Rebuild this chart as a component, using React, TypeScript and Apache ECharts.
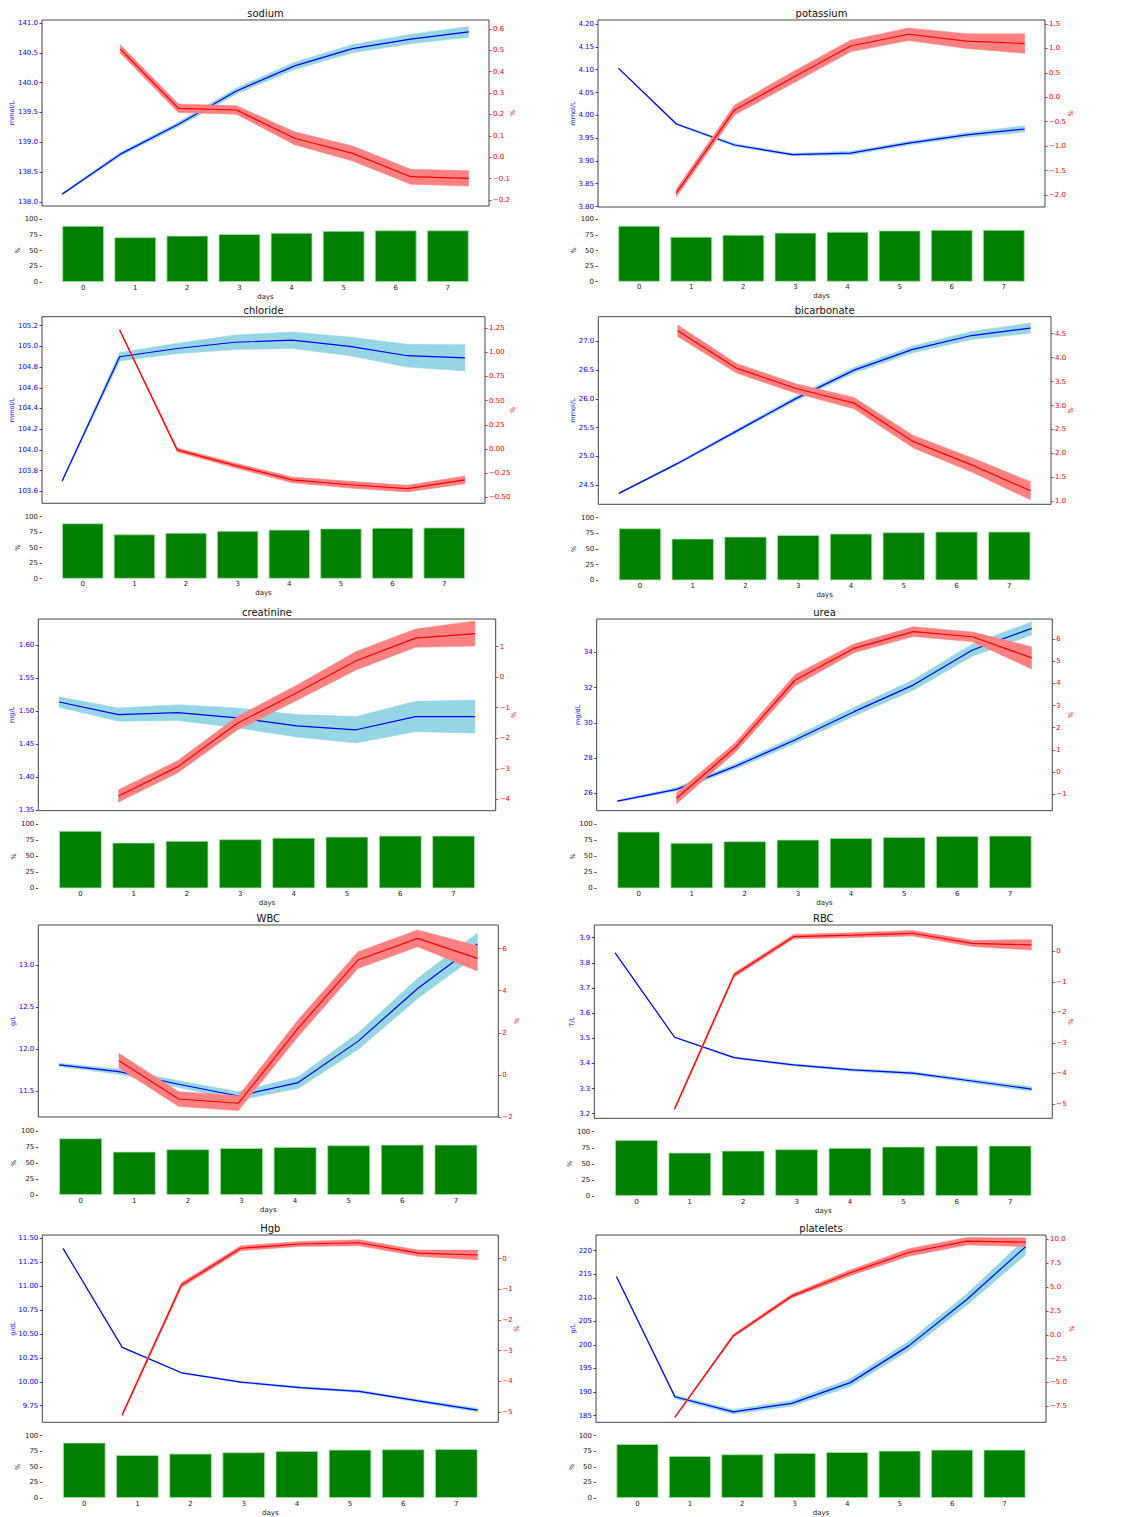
import React, { useEffect, useRef } from "react";
import * as echarts from "echarts";

// ---------------- data ----------------
const days = [0, 1, 2, 3, 4, 5, 6, 7];
const changeDays = [1, 2, 3, 4, 5, 6, 7];
const dayLabels = ["0", "1", "2", "3", "4", "5", "6", "7"];
const coverageTicks = [0, 25, 50, 75, 100];

// sodium
const sodiumMean = [138.13, 138.8, 139.3, 139.86, 140.28, 140.57, 140.73, 140.85];
const sodiumSpread = [0.02, 0.03, 0.04, 0.05, 0.06, 0.07, 0.08, 0.09];
const sodiumChange = [0.506, 0.229, 0.221, 0.089, 0.018, -0.091, -0.099];
const sodiumChangeSpread = [0.02, 0.02, 0.02, 0.03, 0.035, 0.035, 0.036];
const sodiumCoverage = [89, 71, 73.5, 76, 78, 81, 82, 82];
const sodiumLeftTicks = [138.0, 138.5, 139.0, 139.5, 140.0, 140.5, 141.0];
const sodiumRightTicks = [-0.2, -0.1, 0, 0.1, 0.2, 0.3, 0.4, 0.5, 0.6];
const sodiumLeftRange = [137.93, 141.05];
const sodiumRightRange = [-0.228, 0.642];

// potassium
const potassiumMean = [4.1035, 3.981, 3.935, 3.914, 3.917, 3.939, 3.957, 3.97];
const potassiumSpread = [0.001, 0.002, 0.003, 0.003, 0.004, 0.004, 0.005, 0.007];
const potassiumChange = [-1.957, -0.262, 0.4, 1.05, 1.29, 1.15, 1.1];
const potassiumChangeSpread = [0.08, 0.1, 0.12, 0.12, 0.13, 0.15, 0.2];
const potassiumCoverage = [89.7, 72, 75, 78.5, 80, 82, 83, 83];
const potassiumLeftTicks = [3.8, 3.85, 3.9, 3.95, 4.0, 4.05, 4.1, 4.15, 4.2];
const potassiumRightTicks = [-2.0, -1.5, -1.0, -0.5, 0, 0.5, 1.0, 1.5];
const potassiumLeftRange = [3.799, 4.209];
const potassiumRightRange = [-2.246, 1.582];

// chloride
const chlorideMean = [103.7, 104.9, 104.98, 105.04, 105.06, 105.0, 104.91, 104.89];
const chlorideSpread = [0.01, 0.04, 0.05, 0.07, 0.08, 0.09, 0.11, 0.127];
const chlorideChange = [1.23, -0.01, -0.17, -0.32, -0.37, -0.41, -0.32];
const chlorideChangeSpread = [0.01, 0.02, 0.025, 0.03, 0.035, 0.035, 0.04];
const chlorideCoverage = [89.2, 71.5, 74, 77, 79, 81, 82, 82.5];
const chlorideLeftTicks = [103.6, 103.8, 104.0, 104.2, 104.4, 104.6, 104.8, 105.0, 105.2];
const chlorideRightTicks = [-0.5, -0.25, 0, 0.25, 0.5, 0.75, 1.0, 1.25];
const chlorideLeftRange = [103.484, 105.287];
const chlorideRightRange = [-0.562, 1.367];

// bicarbonate
const bicarbonateMean = [24.36, 24.88, 25.44, 26.0, 26.5, 26.86, 27.1, 27.23];
const bicarbonateSpread = [0.01, 0.02, 0.03, 0.04, 0.05, 0.06, 0.07, 0.087];
const bicarbonateChange = [4.56, 3.78, 3.36, 3.05, 2.25, 1.76, 1.22];
const bicarbonateChangeSpread = [0.12, 0.1, 0.1, 0.12, 0.13, 0.15, 0.19];
const bicarbonateCoverage = [83, 66.5, 69.7, 72.4, 74.6, 76.7, 77.7, 77.7];
const bicarbonateLeftTicks = [24.5, 25.0, 25.5, 26.0, 26.5, 27.0];
const bicarbonateRightTicks = [1.0, 1.5, 2.0, 2.5, 3.0, 3.5, 4.0, 4.5];
const bicarbonateLeftRange = [24.17, 27.427];
const bicarbonateRightRange = [0.937, 4.855];

// creatinine
const creatinineMean = [1.514, 1.495, 1.498, 1.49, 1.478, 1.472, 1.492, 1.492];
const creatinineSpread = [0.008, 0.01, 0.012, 0.015, 0.017, 0.02, 0.023, 0.025];
const creatinineChange = [-3.89, -2.93, -1.51, -0.51, 0.54, 1.28, 1.43];
const creatinineChangeSpread = [0.2, 0.2, 0.22, 0.25, 0.3, 0.3, 0.41];
const creatinineCoverage = [89.6, 71.3, 74, 76.6, 79, 80.6, 82.2, 82.2];
const creatinineLeftTicks = [1.35, 1.4, 1.45, 1.5, 1.55, 1.6];
const creatinineRightTicks = [-4, -3, -2, -1, 0, 1];
const creatinineLeftRange = [1.3495, 1.6397];
const creatinineRightRange = [-4.374, 1.908];

// urea
const ureaMean = [25.55, 26.22, 27.54, 29.02, 30.63, 32.14, 34.13, 35.36];
const ureaSpread = [0.05, 0.1, 0.15, 0.2, 0.25, 0.3, 0.35, 0.38];
const ureaChange = [-1.18, 1.13, 4.14, 5.58, 6.33, 6.1, 5.15];
const ureaChangeSpread = [0.25, 0.22, 0.25, 0.2, 0.22, 0.22, 0.5];
const ureaCoverage = [88.5, 71, 73.5, 76, 78.6, 80, 81.7, 82.2];
const ureaLeftTicks = [26, 28, 30, 32, 34];
const ureaRightTicks = [-1, 0, 1, 2, 3, 4, 5, 6];
const ureaLeftRange = [25.006, 35.893];
const ureaRightRange = [-1.739, 6.901];

// WBC
const wbcMean = [11.81, 11.73, 11.58, 11.44, 11.6, 12.09, 12.72, 13.25];
const wbcSpread = [0.02, 0.03, 0.04, 0.05, 0.07, 0.1, 0.12, 0.13];
const wbcChange = [0.67, -1.15, -1.35, 2.22, 5.46, 6.49, 5.54];
const wbcChangeSpread = [0.35, 0.35, 0.35, 0.4, 0.4, 0.4, 0.6];
const wbcCoverage = [88.6, 67.7, 71.4, 73.4, 75, 77.6, 78.6, 78.6];
const wbcLeftTicks = [11.5, 12.0, 12.5, 13.0];
const wbcRightTicks = [-2, 0, 2, 4, 6];
const wbcLeftRange = [11.19, 13.475];
const wbcRightRange = [-2.005, 7.127];

// RBC
const rbcMean = [3.84, 3.504, 3.423, 3.394, 3.374, 3.361, 3.33, 3.298];
const rbcSpread = [0.001, 0.002, 0.003, 0.004, 0.005, 0.006, 0.007, 0.009];
const rbcChange = [-5.16, -0.78, 0.48, 0.53, 0.59, 0.26, 0.21];
const rbcChangeSpread = [0.05, 0.07, 0.07, 0.08, 0.09, 0.1, 0.17];
const rbcCoverage = [87.1, 67.4, 70.5, 72.6, 74.7, 76.7, 78.3, 78.3];
const rbcLeftTicks = [3.2, 3.3, 3.4, 3.5, 3.6, 3.7, 3.8, 3.9];
const rbcRightTicks = [-5, -4, -3, -2, -1, 0];
const rbcLeftRange = [3.1817, 3.9505];
const rbcRightRange = [-5.468, 0.861];

// Hgb
const hgbMean = [11.395, 10.36, 10.094, 9.997, 9.94, 9.9, 9.8, 9.704];
const hgbSpread = [0.002, 0.004, 0.005, 0.008, 0.01, 0.012, 0.015, 0.02];
const hgbChange = [-5.09, -0.86, 0.34, 0.48, 0.52, 0.18, 0.12];
const hgbChangeSpread = [0.05, 0.08, 0.08, 0.08, 0.1, 0.1, 0.16];
const hgbCoverage = [88.8, 69, 71.2, 73.3, 75.4, 77.5, 78.1, 78.6];
const hgbLeftTicks = [9.75, 10.0, 10.25, 10.5, 10.75, 11.0, 11.25, 11.5];
const hgbRightTicks = [-5, -4, -3, -2, -1, 0];
const hgbLeftRange = [9.5765, 11.5345];
const hgbRightRange = [-5.336, 0.773];

// platelets
const plateletsMean = [214.5, 189.0, 185.8, 187.6, 192.0, 199.8, 209.7, 220.85];
const plateletsSpread = [0.1, 0.4, 0.5, 0.6, 0.8, 1.0, 1.2, 1.75];
const plateletsChange = [-8.64, -0.1, 4.05, 6.49, 8.62, 9.8, 9.7];
const plateletsChangeSpread = [0.1, 0.15, 0.2, 0.3, 0.4, 0.4, 0.45];
const plateletsCoverage = [86.6, 67.4, 70.1, 72.2, 73.8, 75.9, 77.5, 77.5];
const plateletsLeftTicks = [185, 190, 195, 200, 205, 210, 215, 220];
const plateletsRightTicks = [-7.5, -5.0, -2.5, 0, 2.5, 5.0, 7.5, 10.0];
const plateletsLeftRange = [183.58, 223.33];
const plateletsRightRange = [-9.17, 10.45];

const panels = [
  { title: "sodium", unit: "mmol/L", mean: sodiumMean, spread: sodiumSpread, change: sodiumChange, changeSpread: sodiumChangeSpread, coverage: sodiumCoverage, leftTicks: sodiumLeftTicks, leftDec: 1, rightTicks: sodiumRightTicks, rightDec: 1, leftRange: sodiumLeftRange, rightRange: sodiumRightRange },
  { title: "potassium", unit: "mmol/L", mean: potassiumMean, spread: potassiumSpread, change: potassiumChange, changeSpread: potassiumChangeSpread, coverage: potassiumCoverage, leftTicks: potassiumLeftTicks, leftDec: 2, rightTicks: potassiumRightTicks, rightDec: 1, leftRange: potassiumLeftRange, rightRange: potassiumRightRange },
  { title: "chloride", unit: "mmol/L", mean: chlorideMean, spread: chlorideSpread, change: chlorideChange, changeSpread: chlorideChangeSpread, coverage: chlorideCoverage, leftTicks: chlorideLeftTicks, leftDec: 1, rightTicks: chlorideRightTicks, rightDec: 2, leftRange: chlorideLeftRange, rightRange: chlorideRightRange },
  { title: "bicarbonate", unit: "mmol/L", mean: bicarbonateMean, spread: bicarbonateSpread, change: bicarbonateChange, changeSpread: bicarbonateChangeSpread, coverage: bicarbonateCoverage, leftTicks: bicarbonateLeftTicks, leftDec: 1, rightTicks: bicarbonateRightTicks, rightDec: 1, leftRange: bicarbonateLeftRange, rightRange: bicarbonateRightRange },
  { title: "creatinine", unit: "mg/L", mean: creatinineMean, spread: creatinineSpread, change: creatinineChange, changeSpread: creatinineChangeSpread, coverage: creatinineCoverage, leftTicks: creatinineLeftTicks, leftDec: 2, rightTicks: creatinineRightTicks, rightDec: 0, leftRange: creatinineLeftRange, rightRange: creatinineRightRange },
  { title: "urea", unit: "mg/dL", mean: ureaMean, spread: ureaSpread, change: ureaChange, changeSpread: ureaChangeSpread, coverage: ureaCoverage, leftTicks: ureaLeftTicks, leftDec: 0, rightTicks: ureaRightTicks, rightDec: 0, leftRange: ureaLeftRange, rightRange: ureaRightRange },
  { title: "WBC", unit: "g/L", mean: wbcMean, spread: wbcSpread, change: wbcChange, changeSpread: wbcChangeSpread, coverage: wbcCoverage, leftTicks: wbcLeftTicks, leftDec: 1, rightTicks: wbcRightTicks, rightDec: 0, leftRange: wbcLeftRange, rightRange: wbcRightRange },
  { title: "RBC", unit: "T/L", mean: rbcMean, spread: rbcSpread, change: rbcChange, changeSpread: rbcChangeSpread, coverage: rbcCoverage, leftTicks: rbcLeftTicks, leftDec: 1, rightTicks: rbcRightTicks, rightDec: 0, leftRange: rbcLeftRange, rightRange: rbcRightRange },
  { title: "Hgb", unit: "g/dL", mean: hgbMean, spread: hgbSpread, change: hgbChange, changeSpread: hgbChangeSpread, coverage: hgbCoverage, leftTicks: hgbLeftTicks, leftDec: 2, rightTicks: hgbRightTicks, rightDec: 0, leftRange: hgbLeftRange, rightRange: hgbRightRange },
  { title: "platelets", unit: "g/L", mean: plateletsMean, spread: plateletsSpread, change: plateletsChange, changeSpread: plateletsChangeSpread, coverage: plateletsCoverage, leftTicks: plateletsLeftTicks, leftDec: 0, rightTicks: plateletsRightTicks, rightDec: 1, leftRange: plateletsLeftRange, rightRange: plateletsRightRange },
];

// ---------------- layout (pixels) ----------------
const layouts = [
  { L: 42, R: 489, T: 20, B: 206, bT: 219, bB: 282, yl: 12, pr: 513 },
  { L: 598, R: 1045, T: 20, B: 207, bT: 219.3, bB: 281.7, yl: 573, pr: 1071 },
  { L: 42, R: 485, T: 316.7, B: 503.3, bT: 516.7, bB: 578.7, yl: 12, pr: 513 },
  { L: 598.3, R: 1051, T: 316.7, B: 504.3, bT: 517.7, bB: 580.3, yl: 573, pr: 1071 },
  { L: 38.3, R: 495.7, T: 619, B: 810.7, bT: 824.3, bB: 888.3, yl: 12, pr: 514 },
  { L: 596.7, R: 1052.3, T: 619, B: 810.7, bT: 824.3, bB: 888.3, yl: 578, pr: 1070.7 },
  { L: 38.3, R: 498.3, T: 925, B: 1117, bT: 1131, bB: 1195, yl: 13.3, pr: 516.7 },
  { L: 594.3, R: 1052.3, T: 925, B: 1118.3, bT: 1131.7, bB: 1196, yl: 572.3, pr: 1070.7 },
  { L: 42.3, R: 498.3, T: 1235, B: 1422.3, bT: 1435.7, bB: 1498, yl: 12.7, pr: 516.7 },
  { L: 596, R: 1046, T: 1235, B: 1422.3, bT: 1435.7, bB: 1498, yl: 573.3, pr: 1071.7 },
];

const FONT = "DejaVu Sans";
const BLUE = "#0000ff";
const RED = "#ff0000";
const BLUE_BAND = "#96d6e4";
const RED_BAND = "#ff8080";
const BAR_GREEN = "#008000";
const TICK_FS = 7;

const fmt = (dec: number) => (v: number) => Number(v).toFixed(dec).replace("-", "\u2212");

function bandSeries(xs: number[], mean: number[], spread: number[], xi: number, yi: number, color: string, z: number) {
  return {
    type: "custom",
    xAxisIndex: xi,
    yAxisIndex: yi,
    z,
    silent: true,
    data: xs.map((x, i) => [x, mean[i] - spread[i], mean[i] + spread[i]]),
    encode: { x: 0, y: [1, 2] },
    renderItem: (params: any, api: any) => {
      if (params.dataIndex !== 0) return null;
      const pts: number[][] = [];
      for (let i = 0; i < xs.length; i++) pts.push(api.coord([xs[i], mean[i] + spread[i]]));
      for (let i = xs.length - 1; i >= 0; i--) pts.push(api.coord([xs[i], mean[i] - spread[i]]));
      return { type: "polygon", shape: { points: pts }, style: { fill: color, stroke: color, lineWidth: 0.5 } };
    },
  };
}

function buildOption() {
  const grid: any[] = [];
  const xAxis: any[] = [];
  const yAxis: any[] = [];
  const series: any[] = [];
  const graphic: any[] = [];

  panels.forEach((p, k) => {
    const g = layouts[k];
    const W = g.R - g.L;
    // line grid
    grid.push({ left: g.L, top: g.T, width: W, height: g.B - g.T, show: true, borderColor: "#444", borderWidth: 1, backgroundColor: "transparent" });
    // bar grid (category centres aligned with matplotlib bar positions)
    const off = ((0.79 - 0.5) / 8.58) * W;
    const wc = (8 / 8.58) * W;
    grid.push({ left: g.L + off, top: g.bT, width: wc, height: g.bB - g.bT, show: false });

    const lineX = 2 * k;
    const barX = 2 * k + 1;
    xAxis.push({ gridIndex: 2 * k, type: "value", min: -0.35, max: 7.35, show: false, axisLine: { onZero: false } });
    xAxis.push({
      gridIndex: 2 * k + 1,
      type: "category",
      data: dayLabels,
      axisLine: { show: false, onZero: false },
      axisTick: { show: false },
      axisLabel: { color: "#222", fontSize: TICK_FS, fontFamily: FONT, margin: 2 },
      splitLine: { show: false },
    });

    const leftY = 3 * k;
    const rightY = 3 * k + 1;
    const barY = 3 * k + 2;
    yAxis.push({
      gridIndex: 2 * k,
      type: "value",
      position: "left",
      min: p.leftRange[0],
      max: p.leftRange[1],
      axisLine: { show: false, onZero: false },
      splitLine: { show: false },
      axisTick: { show: true, length: 2.5, customValues: p.leftTicks, lineStyle: { color: BLUE, width: 0.8 } },
      axisLabel: { customValues: p.leftTicks, formatter: fmt(p.leftDec), color: BLUE, fontSize: TICK_FS, fontFamily: FONT, margin: 4 },
    });
    yAxis.push({
      gridIndex: 2 * k,
      type: "value",
      position: "right",
      min: p.rightRange[0],
      max: p.rightRange[1],
      axisLine: { show: false, onZero: false },
      splitLine: { show: false },
      axisTick: { show: true, length: 2.5, customValues: p.rightTicks, lineStyle: { color: RED, width: 0.8 } },
      axisLabel: { customValues: p.rightTicks, formatter: fmt(p.rightDec), color: RED, fontSize: TICK_FS, fontFamily: FONT, margin: 4 },
    });
    yAxis.push({
      gridIndex: 2 * k + 1,
      type: "value",
      position: "left",
      offset: off,
      min: 0,
      max: 100,
      axisLine: { show: false, onZero: false },
      splitLine: { show: false },
      axisTick: { show: true, length: 2.5, customValues: coverageTicks, lineStyle: { color: "#333", width: 0.8 } },
      axisLabel: { customValues: coverageTicks, color: "#222", fontSize: TICK_FS, fontFamily: FONT, margin: 4 },
    });

    series.push(bandSeries(days, p.mean, p.spread, lineX, leftY, BLUE_BAND, 1));
    series.push({
      type: "line",
      xAxisIndex: lineX,
      yAxisIndex: leftY,
      z: 2,
      symbol: "none",
      data: days.map((d, i) => [d, p.mean[i]]),
      lineStyle: { color: BLUE, width: 1.2 },
    });
    series.push(bandSeries(changeDays, p.change, p.changeSpread, lineX, rightY, RED_BAND, 3));
    series.push({
      type: "line",
      xAxisIndex: lineX,
      yAxisIndex: rightY,
      z: 4,
      symbol: "none",
      data: changeDays.map((d, i) => [d, p.change[i]]),
      lineStyle: { color: RED, width: 1.2 },
    });
    series.push({
      type: "bar",
      xAxisIndex: barX,
      yAxisIndex: barY,
      barWidth: "80%",
      data: p.coverage,
      itemStyle: { color: BAR_GREEN, borderColor: "#a6e0a6", borderWidth: 0.8 },
    });

    const cx = (g.L + g.R) / 2;
    graphic.push({ type: "text", x: cx, y: g.T - 6.3, style: { text: p.title, fontSize: 10, fontFamily: FONT, fill: "#111", align: "center", verticalAlign: "middle" } });
    graphic.push({ type: "text", x: g.yl, y: (g.T + g.B) / 2, rotation: Math.PI / 2, style: { text: p.unit, fontSize: 6.5, fontFamily: FONT, fill: BLUE, align: "center", verticalAlign: "middle" } });
    graphic.push({ type: "text", x: g.pr, y: (g.T + g.B) / 2, rotation: Math.PI / 2, style: { text: "%", fontSize: 6.5, fontFamily: FONT, fill: RED, align: "center", verticalAlign: "middle" } });
    graphic.push({ type: "text", x: g.L - 24, y: (g.bT + g.bB) / 2, rotation: Math.PI / 2, style: { text: "%", fontSize: 6.5, fontFamily: FONT, fill: "#222", align: "center", verticalAlign: "middle" } });
    graphic.push({ type: "text", x: cx, y: g.bB + 14.5, style: { text: "days", fontSize: 7, fontFamily: FONT, fill: "#222", align: "center", verticalAlign: "middle" } });
  });

  return {
    animation: false,
    backgroundColor: "#ffffff",
    textStyle: { fontFamily: FONT },
    grid,
    xAxis,
    yAxis,
    series,
    graphic,
  };
}

export default function App() {
  const ref = useRef<HTMLDivElement>(null);
  useEffect(() => {
    if (!ref.current) return;
    const chart = echarts.init(ref.current, undefined, { renderer: "svg" });
    chart.setOption(buildOption() as any);
    return () => chart.dispose();
  }, []);
  return <div ref={ref} style={{ position: "absolute", left: 0, top: 0, width: 1130, height: 1517, background: "#fff" }} />;
}
